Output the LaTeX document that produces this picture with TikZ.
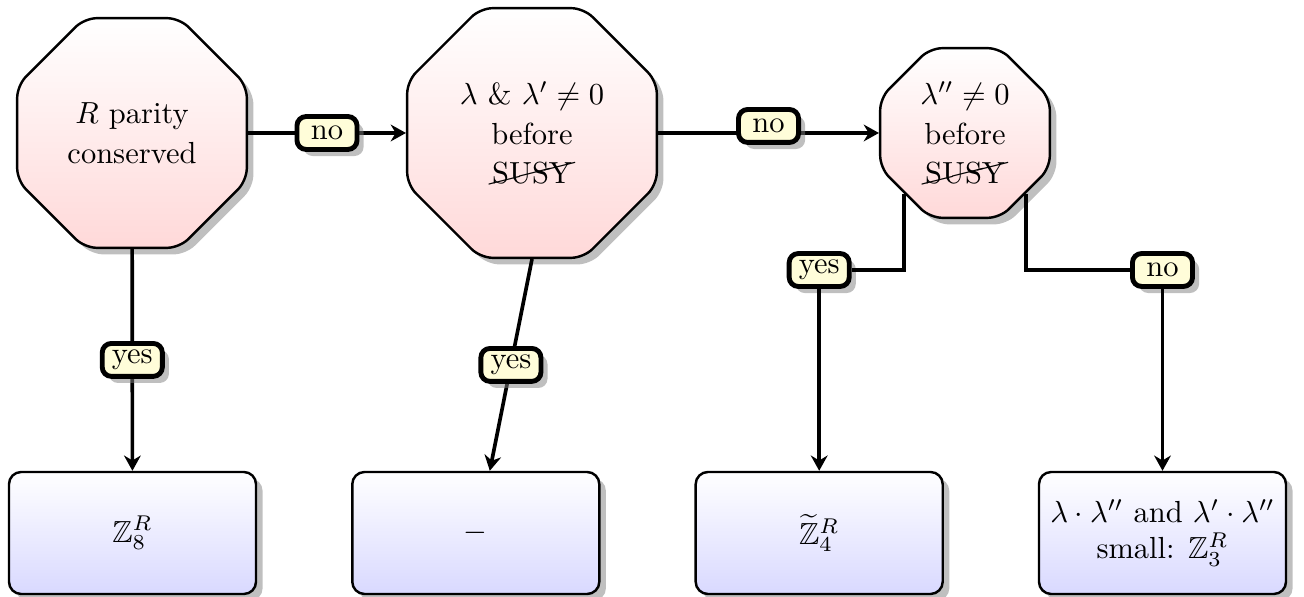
\documentclass[tikz,border=0pt]{standalone}
\usepackage{amsmath,amssymb}
\usepackage{pict2e}
\usepackage{cancel}
\usetikzlibrary{shapes.geometric,shadows,calc,arrows.meta}
\begin{document}
\begin{tikzpicture}[x=0.3279pt,y=-0.3279pt,
  oct/.style={regular polygon, regular polygon sides=8, draw, thick,
    rounded corners=4pt, top color=white, bottom color=red!15,
    drop shadow, align=center, inner sep=1pt},
  outbox/.style={rectangle, draw, thick, rounded corners=4pt,
    top color=white, bottom color=blue!15, drop shadow,
    minimum width=81pt, minimum height=40pt, align=center},
  lbl/.style={rectangle, draw, line width=1.6pt, rounded corners=3pt,
    fill=yellow!15, drop shadow, minimum width=19.7pt, minimum height=10.8pt,
    inner sep=2pt},
  conn/.style={very thick, -{Stealth[length=5pt,width=5.5pt]}}]
\useasboundingbox (0,0) rectangle (1304,597);
% decision nodes
\node[oct, minimum size=81.5pt] (o1) at (132,133) {$R$ parity\\[1pt]conserved};
\node[oct, minimum size=88.6pt] (o2) at (532,133) {$\lambda$ \& $\lambda'\neq 0$\\[1pt]before\\[1pt]\cancel{SUSY}};
\node[oct, minimum size=60.2pt] (o3) at (965,133) {$\lambda''\neq 0$\\[1pt]before\\[1pt]\cancel{SUSY}};
% outcomes
\node[outbox] (b1) at (132.5,533) {$\mathbb{Z}_8^R$};
\node[outbox] (b2) at (475.8,533) {$-$};
\node[outbox] (b3) at (819.2,533) {$\widetilde{\mathbb{Z}}_4^R$};
\node[outbox] (b4) at (1162.5,533) {$\lambda\cdot\lambda''$ and $\lambda'\cdot\lambda''$\\small: $\mathbb{Z}_3^R$};
% corner labels
\node[lbl] (yes3) at (819.2,270) {yes};
\node[lbl] (no3) at (1162.5,270) {no};
\coordinate (b2in) at ($(b2.north)+(14,0)$);
% connectors
\draw[conn] (o1) -- (o2) node[lbl, midway] (no1) {no};
\draw[conn] (o2) -- (o3) node[lbl, midway, yshift=2.3pt] (no2) {no};
\draw[conn] (o1) -- (b1) node[lbl, midway] (yes1) {yes};
\draw[conn] (o2.south) -- (b2in) node[lbl, midway] (yes2) {yes};
\draw[very thick] (o3.south west) |- (yes3);
\draw[conn] (yes3) -- (b3);
\draw[very thick] (o3.south east) |- (no3);
\draw[conn] (no3) -- (b4);
\end{tikzpicture}
\end{document}
